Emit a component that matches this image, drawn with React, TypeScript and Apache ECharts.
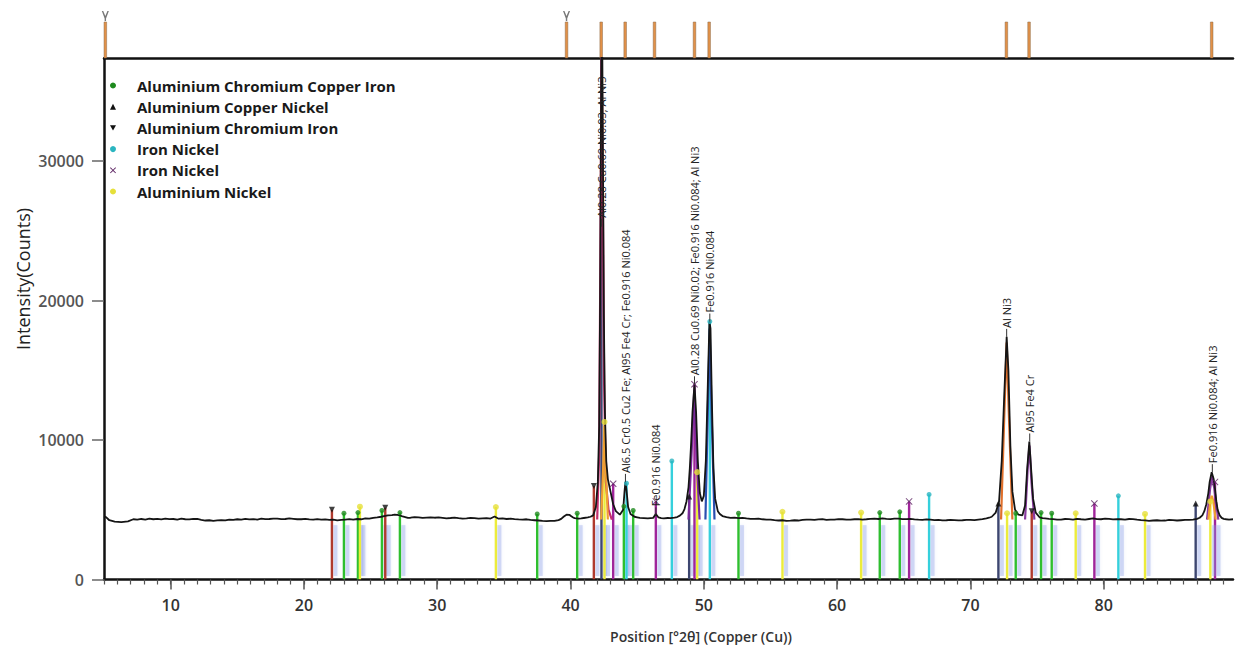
import React, { useEffect, useRef } from "react";
import * as echarts from "echarts";

const X_MIN = 5;
const X_MAX = 89.7;
const Y_MAX = 37400;

const xMajorTicks = [10, 20, 30, 40, 50, 60, 70, 80];
const xMinorTicks = [
  5, 6, 7, 8, 9, 10, 11, 12, 13, 14, 15, 16, 17, 18, 19, 20, 21, 22, 23, 24, 25, 26, 27, 28, 29, 30,
  31, 32, 33, 34, 35, 36, 37, 38, 39, 40, 41, 42, 43, 44, 45, 46, 47, 48, 49, 50, 51, 52, 53, 54, 55,
  56, 57, 58, 59, 60, 61, 62, 63, 64, 65, 66, 67, 68, 69, 70, 71, 72, 73, 74, 75, 76, 77, 78, 79, 80,
  81, 82, 83, 84, 85, 86, 87, 88, 89,
];
const yTicks = [0, 10000, 20000, 30000];

// measured diffractogram (2θ, counts)
const pattern: [number, number][] = [
  [5.0, 4520], [5.15, 4480], [5.4, 4250], [5.8, 4150], [6.3, 4120], [6.8, 4170], [7.2, 4320], [7.5, 4290], [7.8, 4340],
  [8.1, 4300], [8.4, 4360], [8.7, 4320], [9.0, 4350], [9.3, 4310], [9.6, 4370], [9.9, 4330], [10.2, 4340], [10.5, 4300],
  [10.8, 4360], [11.1, 4320], [11.4, 4310], [11.7, 4350], [12.0, 4340], [12.3, 4280], [12.6, 4230], [12.9, 4250],
  [13.2, 4210], [13.5, 4240], [13.8, 4260], [14.1, 4240], [14.4, 4300], [14.7, 4280], [15.0, 4320], [15.3, 4300],
  [15.6, 4350], [15.9, 4310], [16.2, 4330], [16.5, 4300], [16.8, 4360], [17.1, 4330], [17.4, 4340], [17.7, 4370],
  [18.0, 4370], [18.3, 4330], [18.6, 4340], [18.9, 4380], [19.2, 4350], [19.5, 4320], [19.8, 4320], [20.1, 4350],
  [20.4, 4310], [20.7, 4290], [21.0, 4330], [21.3, 4300], [21.6, 4310], [21.9, 4280], [22.2, 4290], [22.5, 4240],
  [22.8, 4270], [23.1, 4300], [23.4, 4330], [23.7, 4300], [24.0, 4340], [24.3, 4320], [24.6, 4380], [24.9, 4360],
  [25.2, 4420], [25.5, 4450], [25.8, 4500], [26.1, 4560], [26.3, 4600], [26.6, 4620], [26.8, 4650], [27.0, 4630],
  [27.2, 4600], [27.4, 4520], [27.6, 4480], [27.8, 4420], [28.0, 4430], [28.3, 4480], [28.6, 4460], [28.9, 4420],
  [29.2, 4440], [29.5, 4460], [29.8, 4430], [30.1, 4450], [30.4, 4420], [30.7, 4390], [31.0, 4410], [31.3, 4440],
  [31.6, 4400], [31.9, 4370], [32.2, 4390], [32.5, 4420], [32.8, 4400], [33.1, 4360], [33.4, 4380], [33.7, 4400],
  [34.0, 4370], [34.3, 4520], [34.6, 4360], [34.9, 4380], [35.2, 4340], [35.5, 4360], [35.8, 4330], [36.1, 4310],
  [36.4, 4300], [36.7, 4320], [37.0, 4270], [37.3, 4250], [37.6, 4230], [37.9, 4200], [38.2, 4180], [38.5, 4210],
  [38.8, 4200], [39.1, 4260], [39.3, 4350], [39.5, 4520], [39.7, 4650], [39.9, 4640], [40.0, 4580], [40.2, 4450],
  [40.3, 4400], [40.6, 4360], [40.8, 4380], [41.0, 4410], [41.3, 4450], [41.5, 4500], [41.7, 4600], [41.9, 5200],
  [42.05, 7000], [42.15, 11000], [42.22, 20000], [42.28, 32000], [42.32, 38500], [42.38, 38500], [42.44, 29000],
  [42.5, 19000], [42.58, 12000], [42.68, 8500], [42.8, 7200], [43.0, 6300], [43.2, 5400], [43.4, 4900], [43.7, 4650],
  [43.95, 5000], [44.05, 6300], [44.12, 7000], [44.2, 6400], [44.32, 5200], [44.5, 4700], [44.8, 4500], [45.0, 4460],
  [45.2, 4420], [45.5, 4400], [45.8, 4380], [46.0, 4400], [46.2, 4420], [46.4, 4700], [46.6, 4450], [46.8, 4400],
  [47.0, 4380], [47.3, 4410], [47.5, 4400], [47.8, 4430], [48.0, 4480], [48.2, 4580], [48.4, 4750], [48.55, 5050],
  [48.7, 5600], [48.85, 6600], [48.95, 8000], [49.05, 9800], [49.15, 12000], [49.3, 14000], [49.42, 12000],
  [49.55, 8500], [49.7, 6200], [49.85, 5600], [50.0, 6000], [50.15, 8500], [50.3, 14000], [50.42, 18500],
  [50.5, 18000], [50.6, 13000], [50.72, 8000], [50.85, 5800], [51.05, 4900], [51.2, 4700], [51.4, 4550],
  [51.7, 4480], [52.0, 4420], [52.3, 4440], [52.6, 4400], [52.9, 4420], [53.2, 4380], [53.5, 4350], [53.8, 4350],
  [54.1, 4370], [54.4, 4320], [54.7, 4300], [55.0, 4300], [55.3, 4260], [55.6, 4230], [55.9, 4250], [56.2, 4200],
  [56.5, 4220], [56.8, 4250], [57.1, 4230], [57.4, 4270], [57.7, 4290], [58.0, 4300], [58.3, 4280], [58.6, 4310],
  [58.9, 4330], [59.2, 4280], [59.5, 4300], [59.8, 4300], [60.1, 4330], [60.4, 4320], [60.7, 4290], [61.0, 4300],
  [61.3, 4320], [61.6, 4330], [61.9, 4300], [62.2, 4320], [62.5, 4350], [62.8, 4360], [63.1, 4340], [63.4, 4380],
  [63.7, 4350], [64.0, 4330], [64.3, 4370], [64.6, 4360], [64.9, 4330], [65.2, 4330], [65.5, 4350], [65.8, 4310],
  [66.1, 4290], [66.4, 4280], [66.7, 4310], [67.0, 4300], [67.3, 4260], [67.6, 4270], [67.9, 4240], [68.2, 4250],
  [68.5, 4280], [68.8, 4260], [69.1, 4240], [69.4, 4250], [69.7, 4270], [70.0, 4280], [70.3, 4260], [70.6, 4300],
  [70.9, 4330], [71.2, 4380], [71.4, 4430], [71.6, 4500], [71.9, 4800], [72.15, 5600], [72.35, 8500], [72.55, 13500],
  [72.72, 17400], [72.85, 15000], [73.0, 9500], [73.15, 6300], [73.35, 5000], [73.6, 4650], [73.9, 4600], [74.1, 5300],
  [74.25, 7800], [74.42, 9900], [74.55, 8000], [74.7, 5800], [74.9, 4800], [75.2, 4450], [75.4, 4400], [75.6, 4380],
  [75.9, 4350], [76.2, 4330], [76.5, 4290], [76.8, 4300], [77.1, 4340], [77.4, 4330], [77.7, 4300], [78.0, 4350],
  [78.3, 4320], [78.6, 4300], [78.9, 4340], [79.2, 4380], [79.5, 4330], [79.8, 4320], [80.1, 4360], [80.4, 4350],
  [80.7, 4310], [81.0, 4330], [81.3, 4320], [81.6, 4300], [81.9, 4340], [82.2, 4330], [82.5, 4290], [82.8, 4260],
  [83.1, 4240], [83.4, 4200], [83.7, 4230], [84.0, 4250], [84.3, 4220], [84.6, 4230], [84.9, 4270], [85.2, 4260],
  [85.5, 4230], [85.8, 4250], [86.1, 4270], [86.4, 4280], [86.7, 4300], [87.0, 4350], [87.2, 4430], [87.4, 4600],
  [87.55, 4900], [87.7, 5400], [87.85, 6200], [87.95, 7000], [88.1, 7700], [88.25, 7200], [88.35, 6500], [88.45, 5600],
  [88.55, 5000], [88.7, 4600], [88.85, 4420], [89.0, 4350], [89.2, 4320], [89.4, 4300], [89.7, 4320],
];

// coloured fitted profiles under the strongest peaks
const profile42a: [number, number][] = [[42.0, 4300], [42.15, 9000], [42.25, 25000], [42.33, 38500], [42.42, 28000], [42.52, 14000], [42.65, 7000], [42.85, 5000], [43.1, 4300]];
const profile42b: [number, number][] = [[42.3, 4300], [42.45, 8000], [42.55, 11000], [42.65, 8000], [42.8, 4300]];
const profile49: [number, number][] = [[48.85, 4300], [49.08, 9000], [49.28, 13600], [49.45, 9000], [49.68, 4300]];
const profile50: [number, number][] = [[50.12, 4300], [50.3, 12000], [50.44, 18000], [50.58, 12000], [50.8, 4300]];
const profile72: [number, number][] = [[72.3, 4300], [72.55, 12000], [72.72, 17000], [72.88, 12000], [73.15, 4300]];
const profile74: [number, number][] = [[74.1, 4300], [74.3, 8000], [74.43, 9600], [74.58, 7000], [74.8, 4300]];
const profile88a: [number, number][] = [[87.75, 4300], [87.98, 6500], [88.13, 7400], [88.3, 6500], [88.6, 4300]];
const profile88b: [number, number][] = [[87.85, 4300], [88.0, 5600], [88.1, 6000], [88.22, 5600], [88.4, 4300]];
const profiles = [profile42a, profile42b, profile49, profile50, profile72, profile74, profile88a, profile88b];
const profileColors = ["#c4306e", "#f0a030", "#7a2a9a", "#2a4fb0", "#e0702c", "#8a3aa0", "#8a3aa0", "#f0a030"];

// reference-pattern sticks per phase: [2θ, stick top]
const sticksAlCrCuFe: [number, number][] = [
  [23.0, 4750], [24.05, 4800], [25.85, 4950], [27.2, 4800], [37.5, 4700], [40.5, 4750], [44.0, 5250],
  [44.7, 4950], [52.6, 4750], [63.2, 4800], [64.7, 4850], [73.4, 4750], [75.3, 4800], [76.1, 4750],
];
const sticksAlCuNi: [number, number][] = [[42.32, 40000], [48.9, 5950], [72.1, 5450], [86.9, 5450]];
const sticksAlCrFe: [number, number][] = [[22.1, 5000], [26.1, 5150], [41.75, 6700], [74.6, 4900]];
const sticksFeNiA: [number, number][] = [[44.2, 6900], [47.6, 8500], [50.45, 18500], [66.9, 6100], [81.1, 6000]];
const sticksFeNiB: [number, number][] = [[43.2, 6870], [46.4, 5600], [49.3, 14000], [65.4, 5600], [79.3, 5450], [88.35, 7000]];
const sticksAlNi: [number, number][] = [
  [24.2, 5220], [34.4, 5200], [42.55, 11300], [49.5, 7700], [55.9, 4860], [61.8, 4800], [72.75, 4750],
  [77.9, 4750], [83.1, 4700], [88.0, 5600],
];

const phaseNames = [
  "Aluminium Chromium Copper Iron",
  "Aluminium Copper Nickel",
  "Aluminium Chromium Iron",
  "Iron Nickel",
  "Iron Nickel\u200b",
  "Aluminium Nickel",
];
const phaseSticks = [sticksAlCrCuFe, sticksAlCuNi, sticksAlCrFe, sticksFeNiA, sticksFeNiB, sticksAlNi];

// reference positions in the top strip
const refLinePositions = [5.1, 39.7, 42.3, 44.1, 46.3, 49.3, 50.4, 72.7, 74.4, 88.1];
const refMarkerPositions = [5.1, 39.7];

// peak annotations
const peakLabelX = [42.32, 44.12, 46.4, 49.3, 50.45, 72.72, 74.45, 88.15];
const peakLabelY = [25300, 7000, 4600, 14000, 18500, 17400, 9900, 7700];
const peakLabelText = [
  "Al0.28 Cu0.69 Ni0.03; Al Ni3",
  "Al6.5 Cr0.5 Cu2 Fe; Al95 Fe4 Cr; Fe0.916 Ni0.084",
  "Fe0.916 Ni0.084",
  "Al0.28 Cu0.69 Ni0.02; Fe0.916 Ni0.084; Al Ni3",
  "Fe0.916 Ni0.084",
  "Al Ni3",
  "Al95 Fe4 Cr",
  "Fe0.916 Ni0.084; Al Ni3",
];

const stickColors = ["#2fbf2f", "#3d4670", "#b03a2e", "#35d0dc", "#a0259a", "#ecec3c"];
const markerColors = ["#1e8a1e", "#111111", "#111111", "#2bb5c0", "#5a2060", "#e6e03a"];
const downTri = "path://M0,0 L10,0 L5,9 Z";
const xShape = "path://M1,0 L5,4 L9,0 L10,1 L6,5 L10,9 L9,10 L5,6 L1,10 L0,9 L4,5 L0,1 Z";
const phaseSymbols = ["circle", "triangle", downTri, "circle", xShape, "circle"];
const phaseSymbolSizes = [5, 6, 6, 5, 7, 6];
const FONT = '"Open Sans", "Noto Sans", sans-serif';

export default function App() {
  const ref = useRef<HTMLDivElement>(null);
  useEffect(() => {
    if (!ref.current) return;
    const chart = echarts.init(ref.current, undefined, { renderer: "svg" });

    const stickRender = (color: string) => (params: any, api: any) => {
      const x = api.value(0);
      const top = api.value(1);
      const base = api.coord([x, 0]);
      const tip = api.coord([x, top]);
      const sTop = api.coord([x, 3900]);
      const sBot = api.coord([x, 250]);
      return {
        type: "group",
        children: [
          {
            type: "rect",
            shape: { x: base[0] + 1.5, y: sTop[1], width: 4, height: sBot[1] - sTop[1] },
            style: { fill: "rgba(140,160,230,0.32)", shadowBlur: 3, shadowColor: "rgba(140,160,230,0.6)" },
          },
          {
            type: "line",
            shape: { x1: base[0], y1: base[1], x2: tip[0], y2: tip[1] },
            style: { stroke: color, lineWidth: 2.4 },
          },
        ],
      };
    };

    const series: any[] = [];
    phaseNames.forEach((name, i) => {
      series.push({
        type: "custom",
        name,
        xAxisIndex: 0,
        yAxisIndex: 0,
        clip: true,
        z: 2,
        renderItem: stickRender(stickColors[i]),
        data: phaseSticks[i],
      });
    });
    profiles.forEach((prof, i) => {
      series.push({
        type: "line",
        name: "profile" + i,
        xAxisIndex: 0,
        yAxisIndex: 0,
        data: prof,
        showSymbol: false,
        clip: true,
        z: 2,
        lineStyle: { color: profileColors[i], width: 2.2 },
      });
    });
    series.push({
      type: "line",
      name: "pattern",
      xAxisIndex: 0,
      yAxisIndex: 0,
      data: pattern,
      showSymbol: false,
      clip: true,
      z: 3,
      lineStyle: { color: "#151515", width: 1.8 },
    });
    phaseNames.forEach((name, i) => {
      series.push({
        type: "scatter",
        name,
        xAxisIndex: 0,
        yAxisIndex: 0,
        clip: true,
        z: 4,
        symbol: phaseSymbols[i],
        symbolSize: phaseSymbolSizes[i],
        itemStyle: { color: markerColors[i] },
        data: phaseSticks[i],
      });
    });
    series.push({
      type: "custom",
      name: "labels",
      xAxisIndex: 0,
      yAxisIndex: 0,
      clip: false,
      z: 5,
      data: peakLabelX.map((x, i) => [x, peakLabelY[i]]),
      renderItem: (params: any, api: any) => {
        const i = params.dataIndex;
        const p = api.coord([api.value(0), api.value(1)]);
        return {
          type: "group",
          children: [
            {
              type: "line",
              shape: { x1: p[0], y1: p[1], x2: p[0], y2: p[1] - 8 },
              style: { stroke: "#333", lineWidth: 1 },
            },
            {
              type: "text",
              x: p[0],
              y: p[1] - 9,
              rotation: Math.PI / 2,
              style: {
                text: peakLabelText[i],
                fill: "#222",
                font: `11px ${FONT}`,
                align: "left",
                verticalAlign: "middle",
                textAlign: "left",
                textVerticalAlign: "middle",
              },
            },
          ],
        };
      },
    });
    // top reference strip
    series.push({
      type: "custom",
      name: "refLines",
      xAxisIndex: 3,
      yAxisIndex: 1,
      clip: false,
      data: refLinePositions.map((x) => [x, 0.72]),
      renderItem: (params: any, api: any) => {
        const x = api.value(0);
        const p0 = api.coord([x, 0]);
        const p1 = api.coord([x, api.value(1)]);
        return {
          type: "rect",
          shape: { x: p0[0] - 1.3, y: p1[1], width: 2.6, height: p0[1] - p1[1] },
          style: { fill: "#e29148", stroke: "#8a6a4a", lineWidth: 0.5 },
        };
      },
    });
    series.push({
      type: "scatter",
      name: "refMarkers",
      xAxisIndex: 3,
      yAxisIndex: 1,
      symbol: "path://M0,0 L2,0 L5,6 L8,0 L10,0 L6,9 L6,12 L4,12 L4,9 Z",
      symbolSize: [7, 10],
      itemStyle: { color: "#555" },
      data: refMarkerPositions.map((x) => [x, 0.84]),
    });

    chart.setOption({
      animation: false,
      backgroundColor: "#ffffff",
      grid: [
        { left: 104, right: 2, top: 58, bottom: 66.5 },
        { left: 104, right: 2, top: 8, height: 50 },
      ],
      legend: {
        orient: "vertical",
        left: 105,
        top: 73,
        itemWidth: 6,
        itemHeight: 6,
        itemGap: 6.2,
        textStyle: {
          fontFamily: FONT,
          fontWeight: "bold",
          fontSize: 15,
          lineHeight: 15,
          color: "#1a1a1a",
          padding: [0, 0, 0, 16],
        },
        data: phaseNames.map((n, i) => ({
          name: n,
          icon: phaseSymbols[i],
          itemStyle: { color: markerColors[i] },
        })),
      },
      xAxis: [
        {
          gridIndex: 0,
          type: "value",
          min: X_MIN,
          max: X_MAX,
          position: "bottom",
          axisLine: { show: true, onZero: false, lineStyle: { color: "#111", width: 2.5 } },
          axisTick: { show: true, customValues: xMajorTicks, length: 10, lineStyle: { color: "#555", width: 1.5 } },
          axisLabel: {
            show: true,
            customValues: xMajorTicks,
            margin: 17,
            fontSize: 16,
            fontWeight: 600,
            color: "#333",
            fontFamily: FONT,
          },
          splitLine: { show: false },
        },
        {
          gridIndex: 0,
          type: "value",
          min: X_MIN,
          max: X_MAX,
          position: "bottom",
          axisLine: { show: false, onZero: false },
          axisTick: { show: true, customValues: xMinorTicks, length: 5, lineStyle: { color: "#555", width: 1.2 } },
          axisLabel: { show: false },
          splitLine: { show: false },
        },
        {
          gridIndex: 0,
          type: "value",
          min: X_MIN,
          max: X_MAX,
          position: "top",
          axisLine: { show: true, onZero: false, lineStyle: { color: "#111", width: 2.5 } },
          axisTick: { show: false },
          axisLabel: { show: false },
          splitLine: { show: false },
        },
        { gridIndex: 1, type: "value", min: X_MIN, max: X_MAX, show: false },
      ],
      yAxis: [
        {
          gridIndex: 0,
          type: "value",
          min: 0,
          max: Y_MAX,
          axisLine: { show: true, onZero: false, lineStyle: { color: "#111", width: 2.5 } },
          axisTick: { show: true, customValues: yTicks, length: 12, lineStyle: { color: "#666", width: 1.5 } },
          axisLabel: {
            customValues: yTicks,
            formatter: (v: number) => String(v),
            margin: 20,
            fontSize: 16,
            fontWeight: 600,
            color: "#555",
            fontFamily: FONT,
          },
          splitLine: { show: false },
        },
        { gridIndex: 1, type: "value", min: 0, max: 1, show: false },
      ],
      graphic: [
        {
          type: "text",
          x: 23,
          y: 279,
          rotation: Math.PI / 2,
          style: {
            text: "Intensity(Counts)",
            font: `18px ${FONT}`,
            fill: "#222",
            align: "center",
            verticalAlign: "middle",
            textAlign: "center",
            textVerticalAlign: "middle",
          },
        },
        {
          type: "text",
          x: 701,
          y: 636,
          style: {
            text: "Position [°2θ] (Copper (Cu))",
            font: `600 14px ${FONT}`,
            fill: "#333",
            align: "center",
            verticalAlign: "middle",
            textAlign: "center",
            textVerticalAlign: "middle",
          },
        },
      ],
      series,
    });
    return () => chart.dispose();
  }, []);
  return (
    <div
      ref={ref}
      style={{ position: "absolute", left: 0, top: 0, width: 1235, height: 646, background: "#fff" }}
    />
  );
}
